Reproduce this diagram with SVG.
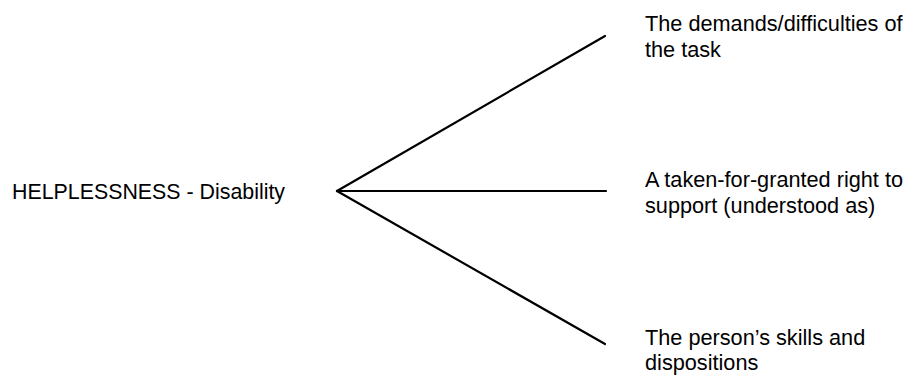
<svg xmlns="http://www.w3.org/2000/svg" width="910" height="377" viewBox="0 0 910 377">
<style>
text{font-family:"Liberation Sans",Arial,sans-serif;font-size:21.7px;fill:#000}
.c{stroke:#000;stroke-width:2.2;fill:none;stroke-linecap:round}
</style>
<rect width="910" height="377" fill="#fff"/>
<g id="connectors">
<line class="c" x1="337" y1="191" x2="605" y2="36"/>
<line class="c" x1="337" y1="191" x2="606" y2="191"/>
<line class="c" x1="337" y1="191" x2="605" y2="344"/>
</g>
<g id="helplessness"><text x="12" y="199" textLength="273" lengthAdjust="spacingAndGlyphs">HELPLESSNESS - Disability</text></g>
<g id="demands"><text x="645" y="31">The demands/difficulties of</text><text x="645" y="57">the task</text></g>
<g id="right"><text x="645" y="187">A taken-for-granted right to</text><text x="645" y="213">support (understood as)</text></g>
<g id="skills"><text x="645" y="345">The person’s skills and</text><text x="645" y="370">dispositions</text></g>
</svg>
